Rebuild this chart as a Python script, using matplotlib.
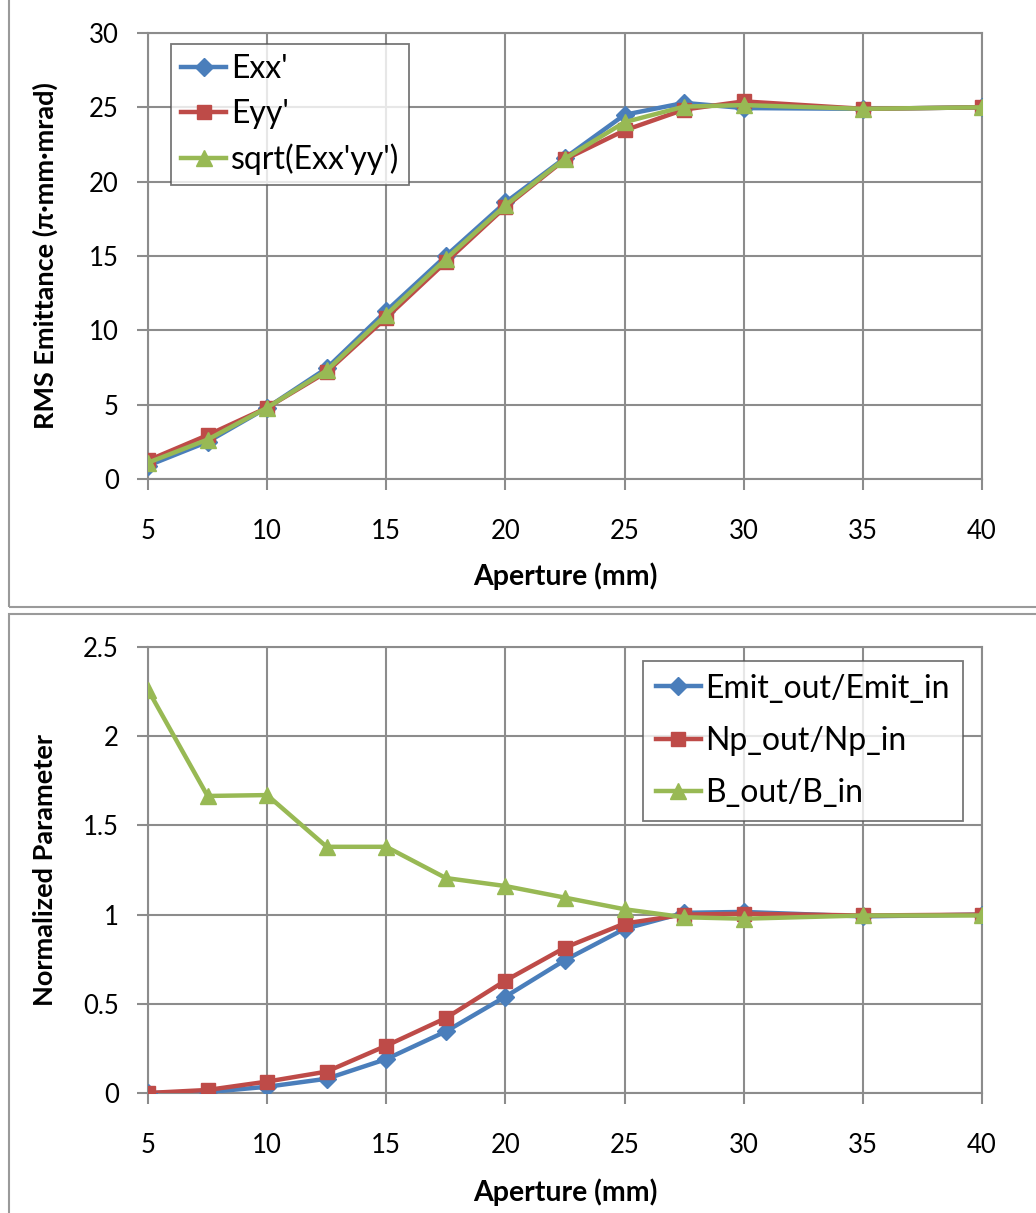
import matplotlib
matplotlib.use("Agg")
import matplotlib.pyplot as plt
from matplotlib.patches import Rectangle

# ---- data ----
aperture = [5, 7.5, 10, 12.5, 15, 17.5, 20, 22.5, 25, 27.5, 30, 35, 40]

exx = [0.9, 2.5, 4.8, 7.45, 11.3, 15.0, 18.6, 21.6, 24.5, 25.3, 24.95, 24.9, 25.0]
eyy = [1.25, 2.95, 4.8, 7.2, 10.85, 14.6, 18.3, 21.5, 23.45, 24.85, 25.4, 24.9, 25.0]
exy = [1.1, 2.65, 4.8, 7.3, 11.05, 14.8, 18.4, 21.55, 24.0, 25.05, 25.15, 24.9, 25.0]

emit_ratio = [0.0, 0.005, 0.035, 0.08, 0.19, 0.345, 0.54, 0.745, 0.92, 1.01, 1.015, 0.99, 1.0]
np_ratio = [0.0, 0.017, 0.064, 0.12, 0.265, 0.42, 0.63, 0.815, 0.95, 1.0, 1.005, 0.995, 1.0]
b_ratio = [2.26, 1.665, 1.67, 1.38, 1.38, 1.205, 1.16, 1.095, 1.03, 0.985, 0.977, 0.995, 0.995]

top_labels = ["Exx'", "Eyy'", "sqrt(Exx'yy')"]
bot_labels = ["Emit_out/Emit_in", "Np_out/Np_in", "B_out/B_in"]

xticks = [5, 10, 15, 20, 25, 30, 35, 40]

# ---- style ----
BLUE = "#4A7EBB"
RED = "#BE4B48"
GREEN = "#98B954"
GRID = "#8C8C8C"
FONT = "Lato"

plt.rcParams["font.family"] = [FONT, "DejaVu Sans"]

W, H = 1036, 1213
fig = plt.figure(figsize=(W / 100, H / 100), dpi=100)

# panel frames
fig.patches.append(Rectangle((9 / W, 1 - 607 / H), 1.2, 607 / H + 0.1,
                             transform=fig.transFigure, fill=False,
                             edgecolor="#9A9A9A", linewidth=1.5))
fig.patches.append(Rectangle((9 / W, -0.1), 1.2, 1 - 614 / H + 0.1,
                             transform=fig.transFigure, fill=False,
                             edgecolor="#9A9A9A", linewidth=1.5))


def make_axes(top_px, bot_px):
    left = 148 / W
    right = 982 / W
    return fig.add_axes([left, 1 - bot_px / H, right - left, (bot_px - top_px) / H])


def style(ax, top_px, bot_px, xlabel, ylabel, xlabel_y_px):
    ax.set_xlim(5, 40)
    ax.set_xticks(xticks)
    ax.grid(True, color=GRID, linewidth=1.5)
    ax.set_axisbelow(True)
    for s in ax.spines.values():
        s.set_color(GRID)
        s.set_linewidth(1.5)
    ax.tick_params(axis="both", direction="out", length=8, width=1.5,
                   color=GRID, labelsize=18.5)
    ax.tick_params(axis="x", pad=21)
    ax.tick_params(axis="y", pad=13)
    for lab in ax.get_xticklabels() + ax.get_yticklabels():
        lab.set_family([FONT, "DejaVu Sans"])
    hpx = bot_px - top_px
    ax.set_xlabel(xlabel, fontsize=20.5, fontweight="bold")
    ax.xaxis.label.set_va("center")
    ax.xaxis.set_label_coords(0.5, -(xlabel_y_px - bot_px) / hpx)
    ax.set_ylabel(ylabel, fontsize=19.5, fontweight="bold")
    ax.yaxis.label.set_va("center")
    ax.yaxis.set_label_coords(-(148 - 45) / 834, 0.5)


def plot_series(ax, ys, labels):
    ax.plot(aperture, ys[0], color=BLUE, lw=3.2, marker="D", ms=9.5,
            label=labels[0], zorder=3)
    ax.plot(aperture, ys[1], color=RED, lw=3.2, marker="s", ms=10,
            label=labels[1], zorder=3)
    ax.plot(aperture, ys[2], color=GREEN, lw=3.2, marker="^", ms=11.5,
            label=labels[2], zorder=3)


# ---- top chart ----
ax1 = make_axes(33, 479)
plot_series(ax1, [exx, eyy, exy], top_labels)
ax1.set_ylim(0, 30)
ax1.set_yticks(range(0, 31, 5))
style(ax1, 33, 479, "Aperture (mm)", "RMS Emittance (π·mm·mrad)", 576)
leg1 = ax1.legend(loc="upper left", bbox_to_anchor=(0.0276, 0.975),
                  fontsize=23, frameon=True, fancybox=False, edgecolor="#555555",
                  handlelength=1.4, handletextpad=0.15, borderpad=0.32,
                  labelspacing=0.45, borderaxespad=0)
leg1.get_frame().set_linewidth(1.3)

# ---- bottom chart ----
ax2 = make_axes(647, 1093)
plot_series(ax2, [emit_ratio, np_ratio, b_ratio], bot_labels)
ax2.set_ylim(0, 2.5)
ax2.set_yticks([0, 0.5, 1, 1.5, 2, 2.5])
ax2.set_yticklabels(["0", "0.5", "1", "1.5", "2", "2.5"])
style(ax2, 647, 1093, "Aperture (mm)", "Normalized Parameter", 1192)
leg2 = ax2.legend(loc="upper right", bbox_to_anchor=(0.977, 0.969),
                  fontsize=23, frameon=True, fancybox=False, edgecolor="#555555",
                  handlelength=1.4, handletextpad=0.15, borderpad=0.4,
                  labelspacing=0.7, borderaxespad=0)
leg2.get_frame().set_linewidth(1.3)

fig.savefig("out.png", dpi=100)
